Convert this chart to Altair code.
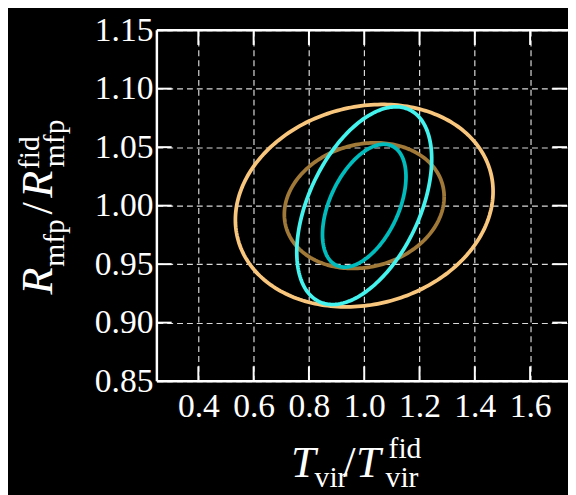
import altair as alt
import numpy as np
import pandas as pd

# ---- data ----
x_ticks = [0.4, 0.6, 0.8, 1.0, 1.2, 1.4, 1.6]
y_ticks = [0.85, 0.90, 0.95, 1.00, 1.05, 1.10, 1.15]

names = ["outer_a", "inner_a", "outer_b", "inner_b"]
colors = ["#f8c67c", "#a07838", "#44f2ee", "#00bcbc"]
cx = [1.0, 1.0, 1.0, 1.0]
cy = [1.0, 1.0, 1.0, 1.0]
sx = [0.466, 0.289, 0.244, 0.151]
sy = [0.0865, 0.0537, 0.0845, 0.0525]
rho = [0.14, 0.14, 0.47, 0.47]

rows = []
t = np.linspace(0, 2 * np.pi, 241)
for i, n in enumerate(names):
    xs = cx[i] + sx[i] * np.cos(t)
    ys = cy[i] + sy[i] * (rho[i] * np.cos(t) + np.sqrt(1 - rho[i] ** 2) * np.sin(t))
    for k in range(len(t)):
        rows.append({"name": n, "k": k, "x": xs[k], "y": ys[k]})
df = pd.DataFrame(rows)

W, H = 417, 356
FONT = "Liberation Serif"
TL = 15

xscale = alt.Scale(domain=[0.25, 1.737], nice=False, zero=False)
yscale = alt.Scale(domain=[0.85, 1.15], nice=False, zero=False)

xaxis = alt.Axis(values=x_ticks, format=".1f", title=None, ticks=False, domain=False,
                 grid=True, gridColor="white", gridDash=[6, 4], gridWidth=1.2, gridOpacity=0.85,
                 labelColor="white", labelFont=FONT, labelFontSize=34, labelPadding=9)
yaxis = alt.Axis(values=y_ticks, format=".2f", title=None, ticks=False, domain=False,
                 grid=True, gridColor="white", gridDash=[6, 4], gridWidth=1.2, gridOpacity=0.85,
                 labelColor="white", labelFont=FONT, labelFontSize=34, labelPadding=4)

ell = alt.Chart(df).mark_line(strokeWidth=3.8).encode(
    x=alt.X("x:Q", scale=xscale, axis=xaxis),
    y=alt.Y("y:Q", scale=yscale, axis=yaxis),
    color=alt.Color("name:N", scale=alt.Scale(domain=names, range=colors), legend=None),
    order="k:Q",
    detail="name:N",
)

xt = pd.DataFrame({"v": x_ticks})
yt = pd.DataFrame({"v": y_ticks})
rule_kw = dict(color="white", strokeWidth=2)

bt = alt.Chart(xt).mark_rule(**rule_kw).encode(
    x=alt.X("v:Q", scale=xscale, axis=xaxis), y=alt.value(H), y2=alt.value(H - TL))
tt = alt.Chart(xt).mark_rule(**rule_kw).encode(
    x=alt.X("v:Q", scale=xscale, axis=xaxis), y=alt.value(0), y2=alt.value(TL))
lt = alt.Chart(yt).mark_rule(**rule_kw).encode(
    y=alt.Y("v:Q", scale=yscale, axis=yaxis), x=alt.value(0), x2=alt.value(TL))
rt = alt.Chart(yt).mark_rule(**rule_kw).encode(
    y=alt.Y("v:Q", scale=yscale, axis=yaxis), x=alt.value(W - 1), x2=alt.value(W - 1 - TL))

one = pd.DataFrame({"a": [0]})
frame_top = alt.Chart(one).mark_rule(color="white", strokeWidth=2.5).encode(
    x=alt.value(0), x2=alt.value(W), y=alt.value(0))
frame_bot = alt.Chart(one).mark_rule(color="white", strokeWidth=2.5).encode(
    x=alt.value(0), x2=alt.value(W), y=alt.value(H))
frame_left = alt.Chart(one).mark_rule(color="white", strokeWidth=2.5).encode(
    x=alt.value(0), y=alt.value(0), y2=alt.value(H))


def txt(s, x, y, size, italic=False, angle=0):
    kw = dict(text=s, font=FONT, fontSize=size, color="white", align="left",
              baseline="alphabetic")
    if italic:
        kw["fontStyle"] = "italic"
    if angle:
        kw["angle"] = angle
    return alt.Chart(one).mark_text(**kw).encode(x=alt.value(x), y=alt.value(y))


# x title: T_vir / T_vir^fid
xtitle = [
    txt("T", 136, 453, 45, italic=True),
    txt("vir", 160, 463, 30),
    txt("/", 189, 453, 45),
    txt("T", 202, 453, 45, italic=True),
    txt("vir", 232, 463, 30),
    txt("fid", 235, 434, 30),
]
# y title: R_mfp / R_mfp^fid (rotated)
ytitle = [
    txt("R", -106, 268, 45, italic=True, angle=270),
    txt("mfp", -94, 240, 30, angle=270),
    txt("/", -106, 187, 45, angle=270),
    txt("R", -106, 170, 45, italic=True, angle=270),
    txt("mfp", -94, 139, 30, angle=270),
    txt("fid", -120, 141, 30, angle=270),
]

chart = alt.layer(
    ell, bt, tt, lt, rt, frame_top, frame_bot, frame_left, *xtitle, *ytitle
).properties(
    width=W, height=H,
    autosize=alt.AutoSizeParams(type="none"),
    padding={"left": 151, "top": 19, "right": 0, "bottom": 112},
    background="black",
).configure_view(stroke=None, fill="black").configure_axis(
    labelFont=FONT, labelFontSize=34, labelColor="white"
)

chart.save("out.html", embed_options={"renderer": "svg", "actions": False})
